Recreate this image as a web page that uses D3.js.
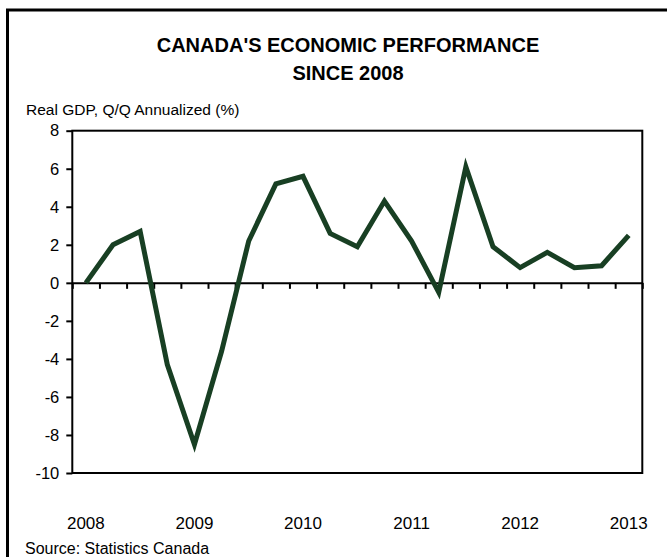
<!DOCTYPE html>
<html>
<head>
<meta charset="utf-8">
<script src="https://cdn.jsdelivr.net/npm/d3@7"></script>
<style>
  html, body { margin: 0; padding: 0; background: #fff; }
  svg { display: block; font-family: "Liberation Sans", Arial, sans-serif; }
</style>
</head>
<body>
<svg id="chart" width="667" height="557"></svg>
<script>
// Quarterly real GDP growth, annualized, 2008Q1 – 2013Q1
const quarters = [
  "2008Q1","2008Q2","2008Q3","2008Q4",
  "2009Q1","2009Q2","2009Q3","2009Q4",
  "2010Q1","2010Q2","2010Q3","2010Q4",
  "2011Q1","2011Q2","2011Q3","2011Q4",
  "2012Q1","2012Q2","2012Q3","2012Q4",
  "2013Q1"
];
const gdpGrowth = [
  0.0, 2.0, 2.7, -4.3,
  -8.5, -3.6, 2.2, 5.2,
  5.6, 2.6, 1.9, 4.3,
  2.2, -0.5, 6.1, 1.9,
  0.8, 1.6, 0.8, 0.9,
  2.5
];
const yearLabels = ["2008", "2009", "2010", "2011", "2012", "2013"];
const yTicks = [-10, -8, -6, -4, -2, 0, 2, 4, 6, 8];

const titleLines = ["CANADA'S ECONOMIC PERFORMANCE", "SINCE 2008"];
const yAxisTitle = "Real GDP, Q/Q Annualized (%)";
const sourceNote = "Source: Statistics Canada";

const svg = d3.select("#chart");
const plot = { left: 72.3, right: 642.3, top: 130.7, bottom: 473 };
const fontFamily = "Liberation Sans, Arial, sans-serif";

// Outer frame (runs off the right and bottom edges)
svg.append("rect")
  .attr("x", 7.5).attr("y", 10)
  .attr("width", 720).attr("height", 620)
  .attr("fill", "none").attr("stroke", "#000").attr("stroke-width", 3);

// Scales
const x = d3.scaleBand().domain(quarters).range([plot.left, plot.right]);
const xEdge = d3.scaleLinear().domain([0, quarters.length]).range([plot.left, plot.right]);
const y = d3.scaleLinear().domain([d3.min(yTicks), d3.max(yTicks)]).range([plot.bottom, plot.top]);

// Title
svg.append("g").selectAll("text").data(titleLines).join("text")
  .attr("x", 348).attr("y", (d, i) => 52 + i * 28)
  .attr("text-anchor", "middle")
  .attr("font-size", 20).attr("font-weight", "bold")
  .text(d => d);

// Y-axis title
svg.append("text")
  .attr("x", 26).attr("y", 115)
  .attr("font-size", 15.5)
  .text(yAxisTitle);

// Plot frame
svg.append("rect")
  .attr("x", plot.left).attr("y", plot.top)
  .attr("width", plot.right - plot.left).attr("height", plot.bottom - plot.top)
  .attr("fill", "none").attr("stroke", "#000").attr("stroke-width", 2);

// Y axis
const yAxis = svg.append("g")
  .attr("transform", `translate(${plot.left},0)`)
  .call(d3.axisLeft(y).tickValues(yTicks).tickSize(6).tickPadding(7)
    .tickFormat(d => String(d)));
yAxis.select(".domain").remove();
yAxis.selectAll(".tick line").attr("stroke", "#000").attr("stroke-width", 2);
yAxis.selectAll(".tick text").attr("font-size", 16.5).attr("fill", "#000")
  .attr("font-family", fontFamily);

// Zero line with quarter ticks
const zeroAxis = svg.append("g")
  .attr("transform", `translate(0,${y(0)})`)
  .call(d3.axisBottom(xEdge).tickValues(d3.range(0, quarters.length + 1)).tickSize(6).tickSizeOuter(0).tickFormat(""));
zeroAxis.select(".domain").attr("stroke", "#000").attr("stroke-width", 2);
zeroAxis.selectAll(".tick line").attr("stroke", "#000").attr("stroke-width", 2);

// Year labels under the plot, at each first quarter
const yearQuarters = yearLabels.map(yr => yr + "Q1");
const xAxis = svg.append("g")
  .attr("transform", `translate(0,${plot.bottom})`)
  .call(d3.axisBottom(x).tickValues(yearQuarters).tickSize(0).tickPadding(44)
    .tickFormat(q => yearLabels[yearQuarters.indexOf(q)]));
xAxis.select(".domain").remove();
xAxis.selectAll(".tick text").attr("font-size", 17).attr("fill", "#000")
  .attr("font-family", fontFamily);

// GDP growth line
const line = d3.line()
  .x((d, i) => x(quarters[i]) + x.bandwidth() / 2)
  .y(d => y(d));
svg.append("path")
  .datum(gdpGrowth)
  .attr("d", line)
  .attr("fill", "none")
  .attr("stroke", "#183f23")
  .attr("stroke-width", 5)
  .attr("stroke-linejoin", "miter")
  .attr("stroke-linecap", "butt");

// Source note
svg.append("text")
  .attr("x", 25).attr("y", 554)
  .attr("font-size", 16)
  .text(sourceNote);
</script>
</body>
</html>
